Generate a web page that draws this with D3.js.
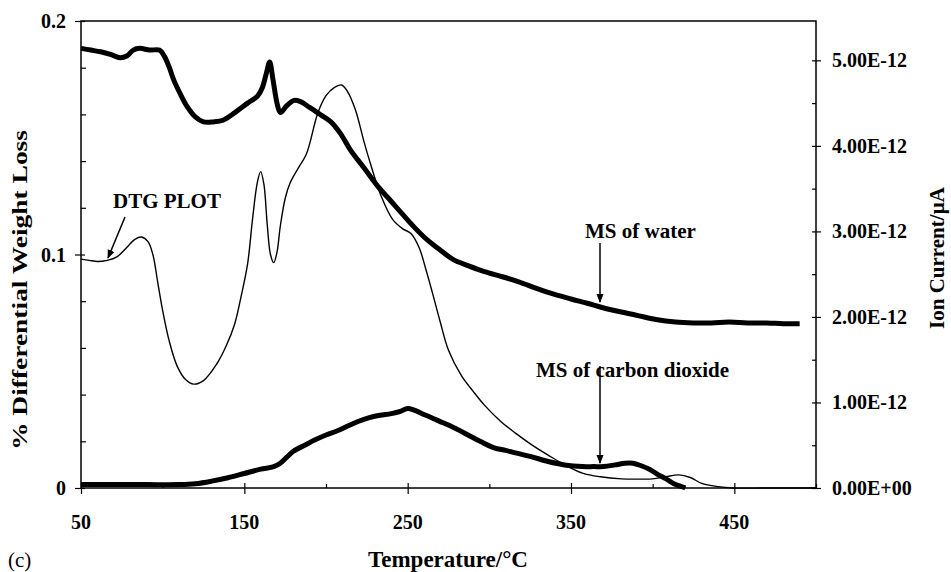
<!DOCTYPE html>
<html>
<head>
<meta charset="utf-8">
<script src="https://cdn.jsdelivr.net/npm/d3@7"></script>
<style>
  body { margin: 0; background: #fff; }
  text { font-family: "Liberation Serif", "Times New Roman", serif; fill: #000; }
</style>
</head>
<body>
<svg id="chart" width="951" height="572"></svg>
<script>
// temperature (°C) and DTG values (% differential weight loss, left axis)
const dtgTemp = [50, 55, 60, 66, 72, 78, 83, 87, 91, 94, 97, 100, 104, 109, 114, 119, 125, 133, 139, 144,
  148, 152, 155, 158, 160, 162, 164, 166, 168, 170, 172, 175, 178, 183, 188, 195, 200, 205, 209.5, 213,
  218, 223, 226, 234, 241, 247, 252, 257, 261, 265, 270, 275, 283, 290, 297, 307, 316, 326, 336, 346,
  357, 368, 381, 392, 400, 408, 416, 423, 430, 440, 449, 470, 500];
const dtgValue = [0.098, 0.0975, 0.097, 0.0975, 0.099, 0.103, 0.1065, 0.1075, 0.1055, 0.1, 0.088, 0.076,
  0.063, 0.052, 0.0465, 0.0445, 0.046, 0.053, 0.061, 0.07, 0.082, 0.096, 0.115, 0.131, 0.1355, 0.13,
  0.113, 0.1, 0.0965, 0.101, 0.112, 0.124, 0.1306, 0.137, 0.143, 0.1606, 0.168, 0.1715, 0.1726, 0.170,
  0.162, 0.149, 0.1417, 0.1246, 0.1148, 0.111, 0.109, 0.103, 0.094, 0.084, 0.071, 0.059, 0.048, 0.0415,
  0.0355, 0.0285, 0.0235, 0.0185, 0.0141, 0.010, 0.0064, 0.0048, 0.0039, 0.0038, 0.0039, 0.0048, 0.0056,
  0.0045, 0.002, 0.0006, 0, 0, 0];

// MS of water, ion current in units of 1E-12 (right axis)
const waterTemp = [50, 56, 62, 68, 74, 78, 82, 86, 92, 98, 101, 104, 107, 111, 115, 120, 125, 131, 137, 145,
  152, 158, 161, 163.5, 165.5, 167.5, 170, 172, 176, 180, 184, 190, 197, 203, 209, 215, 223, 232, 240, 246,
  254, 262, 270, 278, 287, 297, 308, 318, 328, 337, 350, 360, 369, 380, 390, 402, 414, 425, 436, 447,
  458, 470, 480, 490];
const waterValue = [5.14, 5.12, 5.10, 5.07, 5.03, 5.05, 5.12, 5.14, 5.12, 5.12, 5.05, 4.92, 4.76, 4.6,
  4.46, 4.34, 4.28, 4.28, 4.30, 4.40, 4.50, 4.58, 4.68, 4.85, 4.98, 4.78, 4.5, 4.39, 4.47, 4.53, 4.52,
  4.45, 4.36, 4.28, 4.14, 3.95, 3.75, 3.52, 3.35, 3.22, 3.05, 2.90, 2.78, 2.67, 2.6, 2.53, 2.47, 2.41,
  2.34, 2.28, 2.21, 2.16, 2.11, 2.06, 2.02, 1.97, 1.94, 1.93, 1.93, 1.94, 1.93, 1.93, 1.92, 1.92];

// MS of carbon dioxide, ion current in units of 1E-12 (right axis)
const co2Temp = [50, 70, 90, 110, 120, 130, 140, 150, 160, 168, 172, 176, 180, 187, 193, 200, 207, 214, 220,
  226, 233, 240, 246, 250, 254, 260, 266, 272, 280, 287, 295, 303, 310, 316, 325, 336, 346, 357, 364, 370,
  377, 383, 388, 393, 398, 403, 408, 413, 418, 420];
const co2Value = [0.04, 0.04, 0.04, 0.04, 0.05, 0.08, 0.12, 0.17, 0.22, 0.25, 0.29, 0.36, 0.43, 0.5, 0.56,
  0.62, 0.67, 0.73, 0.78, 0.82, 0.85, 0.87, 0.9, 0.93, 0.91, 0.86, 0.81, 0.76, 0.69, 0.62, 0.54, 0.47,
  0.44, 0.41, 0.37, 0.31, 0.27, 0.25, 0.25, 0.25, 0.27, 0.29, 0.29, 0.26, 0.22, 0.16, 0.11, 0.05, 0.015, 0];

// tick labels
const xTicks = [50, 150, 250, 350, 450];
const xMinor = [100, 200, 300, 400, 500];
const leftTicks = [0, 0.1, 0.2];
const leftTickLabels = ["0", "0.1", "0.2"];
const leftMinor = [0.02, 0.04, 0.06, 0.08, 0.12, 0.14, 0.16, 0.18];
const rightTicks = [0, 1, 2, 3, 4, 5];
const rightTickLabels = ["0.00E+00", "1.00E-12", "2.00E-12", "3.00E-12", "4.00E-12", "5.00E-12"];
const rightMinor = [0.5, 1.5, 2.5, 3.5, 4.5];

function drawChart() {
  const svg = d3.select("#chart");
  const left = 81, right = 816, top = 21, bottom = 488;

  const x = d3.scaleLinear().domain([50, 500]).range([left, right]);
  const yL = d3.scaleLinear().domain([0, 0.2]).range([bottom, top]);
  const yR = d3.scaleLinear().domain([0, 5.46]).range([bottom, top]);

  svg.append("rect").attr("width", 951).attr("height", 572).attr("fill", "#fff");

  // arrow head
  svg.append("defs").append("marker")
    .attr("id", "arrow")
    .attr("viewBox", "0 0 10 10")
    .attr("refX", 9).attr("refY", 5)
    .attr("markerWidth", 9).attr("markerHeight", 9)
    .attr("markerUnits", "userSpaceOnUse")
    .attr("orient", "auto")
    .append("path").attr("d", "M0,1 L10,5 L0,9 Z").attr("fill", "#000");

  // frame
  svg.append("rect")
    .attr("x", left).attr("y", top)
    .attr("width", right - left).attr("height", bottom - top)
    .attr("fill", "none").attr("stroke", "#000").attr("stroke-width", 1.5);

  // x axis ticks
  svg.append("g").attr("transform", "translate(0," + bottom + ")")
    .call(d3.axisBottom(x).tickValues(xTicks).tickSize(6).tickFormat(""))
    .call(g => g.select(".domain").remove())
    .call(g => g.selectAll("line").attr("y1", -5).attr("stroke-width", 1.2));
  svg.append("g").attr("transform", "translate(0," + bottom + ")")
    .call(d3.axisTop(x).tickValues(xMinor).tickSize(4).tickFormat(""))
    .call(g => g.select(".domain").remove())
    .call(g => g.selectAll("line").attr("stroke-width", 1.2));
  svg.append("g").selectAll("text").data(xTicks).join("text")
    .attr("x", d => x(d)).attr("y", 529)
    .attr("text-anchor", "middle").attr("font-size", 20).attr("font-weight", "bold")
    .text(d => d);

  // left axis
  svg.append("g").attr("transform", "translate(" + left + ",0)")
    .call(d3.axisLeft(yL).tickValues(leftTicks).tickSize(6).tickFormat(""))
    .call(g => g.select(".domain").remove())
    .call(g => g.selectAll("line").attr("x1", 4).attr("stroke-width", 1.2));
  svg.append("g").attr("transform", "translate(" + left + ",0)")
    .call(d3.axisRight(yL).tickValues(leftMinor).tickSize(5).tickFormat(""))
    .call(g => g.select(".domain").remove())
    .call(g => g.selectAll("line").attr("stroke-width", 1.2));
  svg.append("g").selectAll("text").data(leftTicks).join("text")
    .attr("x", 66).attr("y", d => yL(d) + 7)
    .attr("text-anchor", "end").attr("font-size", 20).attr("font-weight", "bold")
    .text((d, i) => leftTickLabels[i]);

  // right axis
  svg.append("g").attr("transform", "translate(" + right + ",0)")
    .call(d3.axisRight(yR).tickValues(rightTicks).tickSize(5).tickFormat(""))
    .call(g => g.select(".domain").remove())
    .call(g => g.selectAll("line").attr("x1", -4).attr("stroke-width", 1.2));
  svg.append("g").attr("transform", "translate(" + right + ",0)")
    .call(d3.axisLeft(yR).tickValues(rightMinor).tickSize(4).tickFormat(""))
    .call(g => g.select(".domain").remove())
    .call(g => g.selectAll("line").attr("stroke-width", 1.2));
  svg.append("g").selectAll("text").data(rightTicks).join("text")
    .attr("x", 832).attr("y", d => yR(d) + 7)
    .attr("font-size", 20).attr("font-weight", "bold")
    .text((d, i) => rightTickLabels[i]);

  // curves
  const dtgLine = d3.line().x(d => x(d[0])).y(d => yL(d[1])).curve(d3.curveCatmullRom);
  const msLine = d3.line().x(d => x(d[0])).y(d => yR(d[1])).curve(d3.curveCatmullRom);

  svg.append("path")
    .datum(dtgTemp.map((t, i) => [t, dtgValue[i]]))
    .attr("d", dtgLine)
    .attr("fill", "none").attr("stroke", "#000").attr("stroke-width", 1.4);

  svg.append("path")
    .datum(waterTemp.map((t, i) => [t, waterValue[i]]))
    .attr("d", msLine)
    .attr("fill", "none").attr("stroke", "#000").attr("stroke-width", 5)
    .attr("stroke-linejoin", "round");

  svg.append("path")
    .datum(co2Temp.map((t, i) => [t, co2Value[i]]))
    .attr("d", msLine)
    .attr("fill", "none").attr("stroke", "#000").attr("stroke-width", 5)
    .attr("stroke-linejoin", "round");

  // annotations
  svg.append("text").attr("x", 113).attr("y", 208)
    .attr("font-size", 21).attr("font-weight", "bold").text("DTG PLOT");
  svg.append("line").attr("x1", 125).attr("y1", 217).attr("x2", 108).attr("y2", 258)
    .attr("stroke", "#000").attr("stroke-width", 1.5).attr("marker-end", "url(#arrow)");

  svg.append("text").attr("x", 585).attr("y", 238)
    .attr("font-size", 21).attr("font-weight", "bold").text("MS of water");
  svg.append("line").attr("x1", 600).attr("y1", 243).attr("x2", 600).attr("y2", 302)
    .attr("stroke", "#000").attr("stroke-width", 1.5).attr("marker-end", "url(#arrow)");

  svg.append("text").attr("x", 536).attr("y", 377)
    .attr("font-size", 21).attr("font-weight", "bold").text("MS of carbon dioxide");
  svg.append("line").attr("x1", 600).attr("y1", 366).attr("x2", 600).attr("y2", 463)
    .attr("stroke", "#000").attr("stroke-width", 1.5).attr("marker-end", "url(#arrow)");

  // axis titles
  svg.append("text").attr("x", 448).attr("y", 567)
    .attr("text-anchor", "middle").attr("font-size", 23).attr("font-weight", "bold")
    .text("Temperature/°C");
  svg.append("text").attr("x", 8).attr("y", 567)
    .attr("font-size", 21).text("(c)");

  svg.append("text")
    .attr("transform", "translate(27,290) rotate(-90)")
    .attr("text-anchor", "middle").attr("font-size", 22).attr("font-weight", "bold")
    .attr("textLength", 320).attr("lengthAdjust", "spacingAndGlyphs")
    .text("% Differential Weight Loss");
  svg.append("text")
    .attr("transform", "translate(944,258) rotate(-90)")
    .attr("text-anchor", "middle").attr("font-size", 21).attr("font-weight", "bold")
    .text("Ion Current/µA");
}

drawChart();
</script>
</body>
</html>
